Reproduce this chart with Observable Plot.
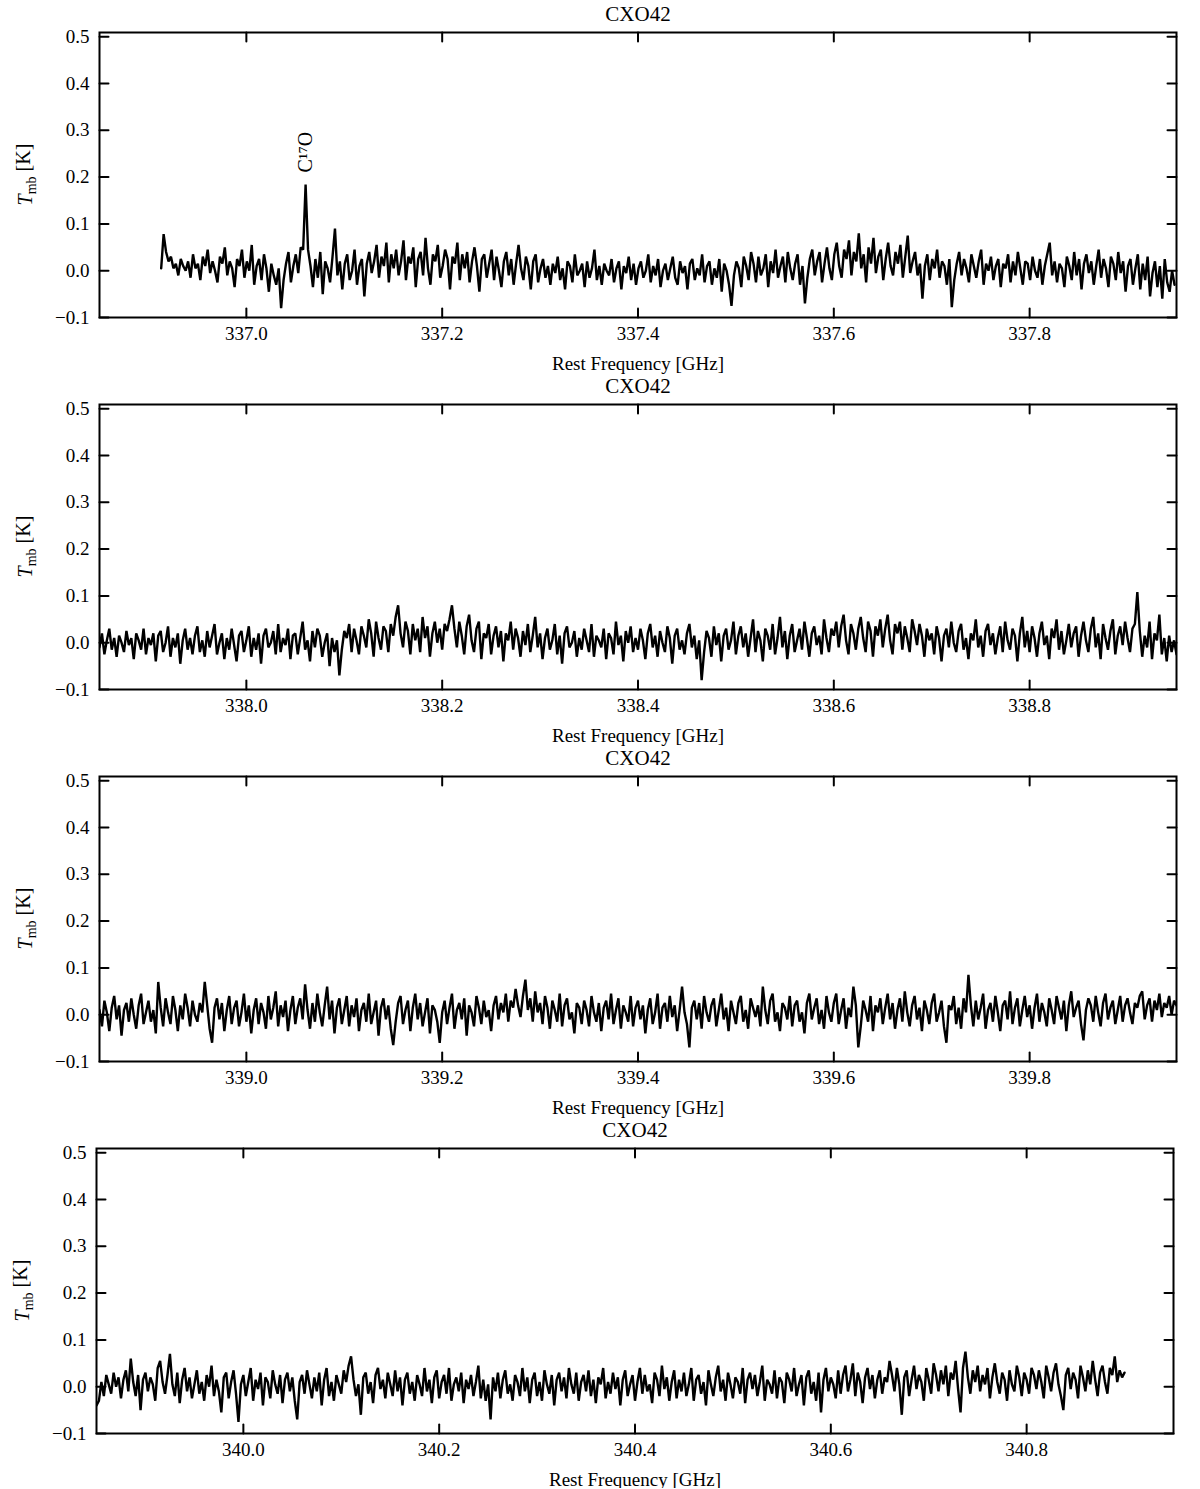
<!DOCTYPE html>
<html>
<head>
<meta charset="utf-8">
<script src="https://cdn.jsdelivr.net/npm/d3@7"></script>
<script src="https://cdn.jsdelivr.net/npm/@observablehq/plot@0.6"></script>
<style>
  html, body { margin: 0; padding: 0; background: #fff; }
  #chart svg { display: block; }
</style>
</head>
<body>
<div id="chart"></div>
<script>
// ---------- DATA ----------
const sourceName = "CXO42";
const xAxisLabel = "Rest Frequency [GHz]";
const channelWidthGHz = 0.0025;

// panel frequency windows (GHz)
const panelDomains = [[336.85, 337.95], [337.85, 338.95], [338.85, 339.95], [339.85, 340.95]];
// first channel frequency of each spectrum (GHz)
const panelStarts = [336.913, 337.85, 338.85, 339.85];

const xTicks1 = [337.0, 337.2, 337.4, 337.6, 337.8];
const xTicks2 = [338.0, 338.2, 338.4, 338.6, 338.8];
const xTicks3 = [339.0, 339.2, 339.4, 339.6, 339.8];
const xTicks4 = [340.0, 340.2, 340.4, 340.6, 340.8];
const yTicks = [-0.1, 0.0, 0.1, 0.2, 0.3, 0.4, 0.5];
const yDomain = [-0.1, 0.509];

// T_mb in mK, channel by channel
const spec1_mK = [
5,78,40,20,30,5,15,-10,25,10,0,20,-15,35,5,15,-20,30,10,45,
-5,20,0,-25,30,15,50,-10,20,5,-35,25,10,45,-15,20,0,55,-30,10,
25,-20,35,5,-45,15,-10,-30,5,-80,-20,15,40,-25,10,35,-5,50,45,184,
45,10,-35,25,-15,40,-50,20,5,-25,30,90,-10,20,-40,15,35,-20,0,45,
-30,10,25,-55,15,40,-5,20,55,-15,30,10,60,-25,35,5,45,-10,20,65,
-20,30,15,50,-35,25,40,-10,70,5,-30,35,20,55,-15,10,45,25,-40,30,
15,60,-20,35,5,40,-25,20,50,10,-45,25,35,-15,15,45,-20,30,0,-35,
20,40,-10,25,-30,15,55,5,-20,30,10,-40,20,35,-25,5,25,-15,10,-30,
15,-5,30,-20,5,-40,20,10,-25,35,-10,0,15,-35,20,-15,5,45,-20,10,
-30,15,0,-10,25,-25,5,20,-40,10,-5,30,-20,15,-30,5,20,-15,0,35,
-25,10,-10,25,-35,0,15,-20,5,30,-15,-30,20,-5,10,-40,15,25,-20,5,
-10,35,-25,10,20,-30,5,-15,25,-45,15,0,-30,-75,-10,20,5,-35,30,10,
-20,40,15,-25,30,-10,5,35,-35,20,-5,45,-15,10,30,-25,40,5,-20,15,
35,-30,10,-70,-15,25,45,-10,20,40,-25,15,50,5,-20,35,60,10,-15,45,
25,65,-10,40,20,80,5,35,-25,50,15,70,-5,30,45,-20,25,60,10,-10,
40,15,55,-15,30,75,-5,20,40,-10,15,-60,10,35,-20,25,5,45,-15,20,
10,-30,25,-78,-20,15,40,-10,25,5,-25,35,10,-15,20,45,-30,15,0,30,
-20,10,25,-35,15,5,35,-25,20,-10,40,5,-30,20,15,-20,30,0,-15,25,
-30,10,35,60,-10,20,-25,15,5,-35,30,10,-20,40,-10,25,-40,15,35,-5,
20,-30,10,45,-15,25,5,-35,30,15,-20,40,-5,20,-45,10,25,-30,5,35,
-40,15,-20,30,-55,-5,20,-35,10,-60,25,-25,-45,0,-30
];
const spec2_mK = [
-10,20,-25,5,30,-15,10,-30,15,0,-20,25,-5,10,-35,20,5,-15,30,-25,
10,-5,20,-40,15,25,-20,0,35,-30,10,-10,20,-45,5,30,-15,10,-25,15,
35,-20,5,-30,25,-10,15,40,-25,0,20,-35,10,-15,30,-5,-40,15,25,-20,
5,35,-30,10,-15,20,-45,15,30,-10,0,25,-25,40,-20,10,-5,30,-35,15,
20,-25,10,45,-15,5,-40,25,-10,30,15,-30,0,20,-50,10,-20,5,-70,-15,
25,10,40,-20,30,5,-25,35,15,-10,50,20,-30,45,10,-15,35,25,-20,40,
15,55,80,20,-10,45,25,-25,40,5,30,-20,55,10,35,-30,20,45,0,30,
-15,40,25,50,80,30,-10,45,15,-25,35,60,5,-20,30,45,-35,20,10,40,
-25,15,35,-10,25,-40,20,5,45,-15,30,10,-30,25,-5,40,-20,15,55,-10,
20,-35,10,30,-15,5,40,-25,15,-45,20,35,-10,0,25,-30,10,-15,30,5,
-20,40,-30,15,5,-10,30,-35,20,10,-25,45,-5,15,-40,25,0,35,-20,10,
-15,30,5,-35,20,40,-10,15,-30,25,0,-20,35,10,-45,15,30,-15,5,-25,
20,40,-10,15,-35,5,-80,-20,25,10,-30,35,-5,20,-40,15,30,-15,5,45,
-25,15,35,-10,20,-30,10,50,-20,25,5,-40,30,15,-15,40,-25,10,55,-10,
25,-35,15,40,-20,5,30,-15,45,10,-30,20,35,-5,15,-25,50,10,-20,30,
15,45,-10,35,60,5,-25,40,20,-15,30,55,10,-20,45,25,-30,35,15,50,
-10,30,60,5,-25,40,20,45,-15,35,10,-20,50,25,-5,40,15,-30,30,5,
20,-25,35,10,-40,15,30,-10,45,0,-20,25,40,-15,10,-35,20,5,50,-10,
15,-30,25,40,-5,20,-25,10,35,-20,45,5,-15,30,15,-40,20,55,-10,25,
-20,35,10,-30,20,45,-5,15,-35,30,10,50,-15,25,-25,5,40,-10,20,35,
-30,15,45,5,-20,30,55,-10,20,-35,40,10,-15,25,50,-25,15,35,-5,45,
10,-20,30,40,108,25,-30,15,-10,45,-35,20,5,60,-25,10,-40,15,-20,5,
-25
];
const spec3_mK = [
10,-25,30,5,-35,15,40,-10,20,-45,10,25,-15,35,0,-30,20,45,-20,5,
30,-15,10,-40,70,15,-25,35,5,-20,40,10,-35,20,-10,45,15,-25,30,0,
-15,25,5,70,20,-30,-60,15,35,-10,25,-35,10,40,-20,15,30,-25,5,45,
-15,20,-40,10,35,-20,25,5,-30,40,-10,15,50,-25,20,-5,30,-35,10,40,
-20,15,35,-10,65,10,-30,25,-15,45,5,-25,20,60,-10,30,-40,15,35,-20,
10,40,-25,20,-5,35,-35,10,25,-15,45,-20,5,30,-45,15,35,-10,20,-30,
-65,-15,25,40,-20,10,30,-35,15,45,-10,25,-25,5,35,-40,20,10,-15,-60,
5,30,-20,15,45,-30,10,25,-10,35,-45,20,5,-25,40,15,-20,30,-5,10,
-35,20,40,-10,25,5,45,-15,30,15,55,20,-5,40,75,10,35,-15,50,5,
25,-20,40,15,-30,30,10,-15,45,-25,20,35,-10,5,-40,25,15,-20,30,10,
-25,40,5,-15,25,-35,15,30,-10,45,-20,10,35,-30,20,5,-15,40,-25,15,
30,-10,20,-40,10,35,-20,5,45,-30,15,25,-15,40,-5,20,-35,10,60,5,
-20,-70,15,30,-10,25,-30,40,5,-15,20,35,-25,10,45,-10,15,-35,30,5,
-20,25,40,-15,10,-30,35,15,-5,20,-25,60,10,-20,30,45,-15,5,-35,25,
15,-10,40,-25,20,30,-15,5,-40,25,45,-10,15,35,-20,10,-30,40,5,-15,
25,45,-20,10,35,-30,15,-5,60,20,-70,-25,30,10,-15,40,-35,20,5,35,
-20,15,45,-10,25,-30,10,35,-15,50,5,-25,20,40,-10,15,-35,30,10,-20,
25,45,-15,5,30,-25,-60,20,10,40,-20,15,-30,35,5,85,20,-25,30,-10,
15,45,-30,10,25,-15,40,5,-35,20,30,-10,50,-20,15,35,-25,10,40,-5,
20,-30,15,45,-15,25,5,-25,35,10,-20,40,15,-10,30,-35,20,50,-5,15,
30,-20,-55,10,35,20,-15,40,5,-25,25,45,-10,15,30,-20,10,40,-15,20,
35,5,-20,25,15,40,50,-10,20,35,-15,30,10,45,-5,25,15,40,0,30,
20
];
const spec4_mK = [
-40,-30,10,-20,25,5,-15,30,0,20,-25,15,35,-10,60,10,-20,25,-50,15,
30,-10,20,5,-30,40,55,10,-15,25,70,5,-20,30,-35,15,40,-10,20,-25,
5,35,-15,10,-30,25,0,45,-20,15,-10,-55,20,30,-25,10,35,-15,-75,5,
25,-20,10,40,-30,15,-5,30,-40,20,10,-25,35,5,-15,25,-35,15,30,-10,
20,-30,-70,10,25,-15,35,5,-25,20,-10,30,-40,15,40,-20,10,-30,25,5,
-15,35,10,45,65,15,-20,5,-60,20,30,-15,10,-35,25,40,-5,15,-25,30,
5,-20,35,-10,20,-40,15,30,-15,10,-30,25,5,-20,40,-10,15,-35,20,35,
-25,10,25,-15,40,-30,5,20,-10,30,-35,15,-5,25,-20,10,45,-25,15,-30,
5,-70,20,-10,30,-25,15,35,-15,5,-30,25,10,-20,40,-10,20,-35,15,30,
-20,10,-30,35,5,-15,25,-40,15,30,-10,20,-25,40,5,-15,30,-30,10,25,
-10,35,-20,15,-35,20,5,40,-25,10,-15,30,-5,20,-40,15,35,-20,5,25,
-30,10,40,-15,25,-10,5,-35,30,15,-20,45,-5,20,-30,10,35,-25,15,-10,
30,-20,5,40,-30,15,25,-15,10,-40,35,5,-20,20,45,-10,15,-30,30,5,
-25,20,10,-15,40,-35,15,30,-5,25,-20,10,45,-30,15,5,-15,35,-25,20,
10,-35,30,15,-10,40,-20,5,25,-40,20,35,-15,10,-30,30,-55,15,40,-10,
20,5,-25,35,-15,25,45,-10,15,50,-20,30,10,-35,20,40,-5,25,-25,15,
35,-15,20,10,55,25,-10,40,5,-60,20,35,-20,15,45,-5,25,10,-30,40,
15,-15,50,25,-10,35,5,45,-20,30,15,55,-5,-55,40,75,20,-15,35,10,
45,-10,25,5,40,-25,20,50,10,-15,30,15,-30,35,5,-10,45,20,-20,30,
15,-15,40,25,-5,35,10,-25,45,20,-10,30,50,5,-20,-50,25,40,-5,30,
15,-25,45,20,-10,35,5,55,15,-20,30,45,10,-15,40,25,65,10,35,20,
30
];

const lineLabels = [{freq: 337.0605, peak: 0.184, label: "C\u00B9\u2077O"}];

// ---------- BUILD ----------
const spectra = [spec1_mK, spec2_mK, spec3_mK, spec4_mK];
const xTicksAll = [xTicks1, xTicks2, xTicks3, xTicks4];
const panelMargins = [[99, 24], [99, 24], [99, 24], [96, 27]];

const fmt = d3.format(".1f");
const tickShape = {draw(ctx, l) { ctx.moveTo(0, 0); ctx.lineTo(0, -l); }};
const FONT = "'Liberation Serif', 'DejaVu Serif', serif";
const container = document.getElementById("chart");

spectra.forEach((spec, p) => {
  const rows = spec.map((v, i) => ({f: panelStarts[p] + i * channelWidthGHz, t: v / 1000}));
  const xt = xTicksAll[p];
  const marks = [
    Plot.line(rows, {x: "f", y: "t", stroke: "black", strokeWidth: 2.4, strokeLinejoin: "miter", strokeMiterlimit: 2, clip: true}),
    Plot.frame({stroke: "black", strokeWidth: 2}),
    Plot.axisX(xt, {anchor: "bottom", tickSize: 0, tickPadding: 9, tickFormat: fmt, label: null, fontSize: 19}),
    Plot.axisY(yTicks, {anchor: "left", tickSize: 0, tickPadding: 10, tickFormat: fmt, label: null, fontSize: 19}),
    Plot.vector(xt, {x: d => d, frameAnchor: "bottom", rotate: 0, length: 9, anchor: "start", shape: tickShape, stroke: "black", strokeWidth: 2}),
    Plot.vector(xt, {x: d => d, frameAnchor: "top", rotate: 180, length: 9, anchor: "start", shape: tickShape, stroke: "black", strokeWidth: 2}),
    Plot.vector(yTicks, {y: d => d, frameAnchor: "left", rotate: 90, length: 9, anchor: "start", shape: tickShape, stroke: "black", strokeWidth: 2}),
    Plot.vector(yTicks, {y: d => d, frameAnchor: "right", rotate: -90, length: 9, anchor: "start", shape: tickShape, stroke: "black", strokeWidth: 2}),
    Plot.text([sourceName], {frameAnchor: "top", dy: -18, lineAnchor: "middle", fontSize: 21, fill: "black"}),
    Plot.text([xAxisLabel], {frameAnchor: "bottom", dy: 46, lineAnchor: "middle", fontSize: 19, fill: "black"})
  ];
  const labels = lineLabels.filter(d => d.freq >= panelDomains[p][0] && d.freq <= panelDomains[p][1]);
  if (labels.length) {
    marks.push(Plot.text(labels, {x: "freq", y: "peak", text: "label", rotate: -90, textAnchor: "start", lineAnchor: "middle", dy: -12, fontSize: 20, fill: "black"}));
  }
  const svg = Plot.plot({
    width: 1200,
    height: 372,
    marginTop: 32,
    marginBottom: 55,
    marginLeft: panelMargins[p][0],
    marginRight: panelMargins[p][1],
    style: {fontFamily: FONT, fontSize: "19px", color: "black", background: "white", overflow: "visible"},
    x: {domain: panelDomains[p]},
    y: {domain: yDomain},
    marks
  });
  // y-axis label with subscript: T_mb [K]
  const cy = 32 + (372 - 32 - 55) / 2;
  const t = d3.select(svg).append("text")
    .attr("transform", `translate(${panelMargins[p][0] - 67},${cy}) rotate(-90)`)
    .attr("text-anchor", "middle")
    .attr("font-family", FONT)
    .attr("font-size", 20)
    .attr("fill", "black");
  t.append("tspan").attr("font-style", "italic").text("T");
  t.append("tspan").attr("font-size", 14).attr("dy", "0.3em").text("mb");
  t.append("tspan").attr("dy", "-0.3em").text(" [K]");
  container.appendChild(svg);
});
</script>
</body>
</html>
